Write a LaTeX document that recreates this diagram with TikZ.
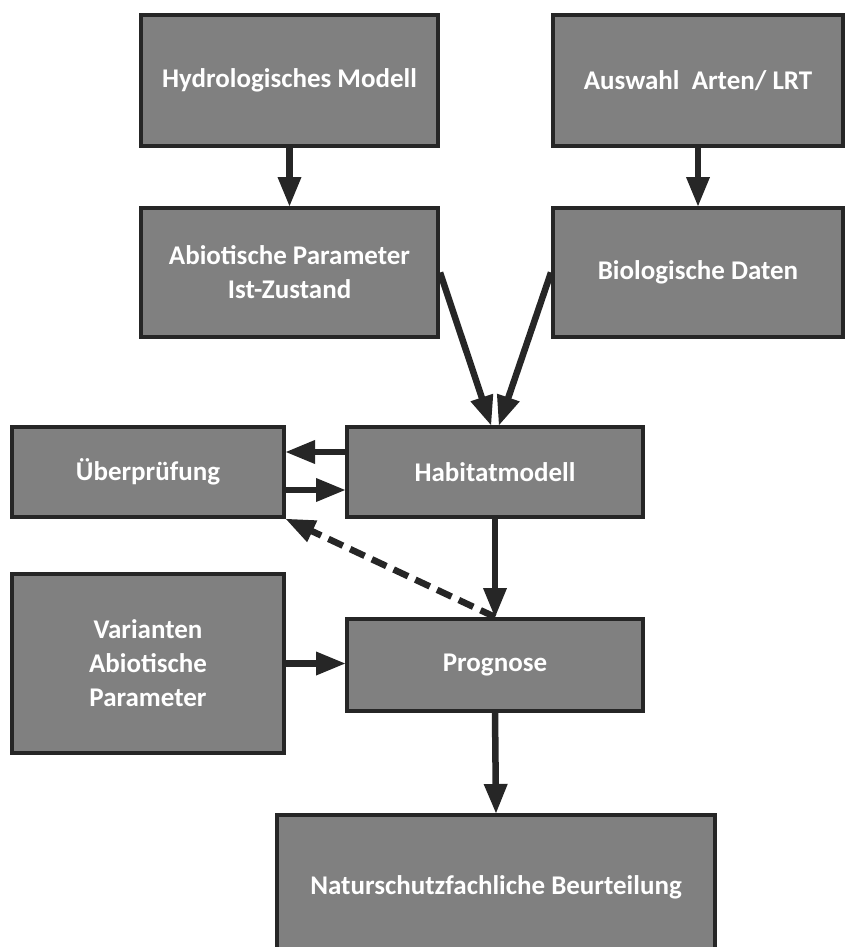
\documentclass[tikz,border=0pt]{standalone}
\usepackage{fontspec}
\setmainfont{Carlito}
\usetikzlibrary{arrows.meta}
\definecolor{boxfill}{HTML}{808080}
\definecolor{boxline}{HTML}{262626}
\tikzset{
  box/.style={draw=boxline, fill=boxfill, line width=4pt, inner sep=0pt,
    text=white, font=\fontsize{27}{34}\selectfont\bfseries, align=center},
  arr/.style={draw=boxline, line width=6.5pt,
    -{Triangle[length=30pt,width=22pt]}, shorten >=-1pt},
  dasharr/.style={arr, dash pattern=on 16pt off 8pt}
}
\begin{document}
\begin{tikzpicture}[x=1pt,y=-1pt]
\useasboundingbox (0,0) rectangle (845,947);
\begin{scope}
\clip (0,0) rectangle (845,947);
\node[box, minimum width=297pt, minimum height=131pt] (hyd) at (289.5,80.5) {Hydrologisches Modell};
\node[box, minimum width=290pt, minimum height=131pt] (ausw) at (698,80.5) {Auswahl\ \ Arten/ LRT};
\node[box, minimum width=297pt, minimum height=129pt] (abio) at (289.5,272.5) {Abiotische Parameter\\Ist-Zustand};
\node[box, minimum width=290pt, minimum height=129pt] (bio) at (698,272.5) {Biologische Daten};
\node[box, minimum width=272pt, minimum height=90pt] (ueber) at (148,472) {Überprüfung};
\node[box, minimum width=296pt, minimum height=90pt] (hab) at (495,472) {Habitatmodell};
\node[box, minimum width=272pt, minimum height=179pt] (var) at (148,663.5) {Varianten\\Abiotische\\Parameter};
\node[box, minimum width=296pt, minimum height=92pt] (prog) at (495,665) {Prognose};
\node[box, minimum width=438pt, minimum height=145pt] (natur) at (496,887.5) {Naturschutzfachliche Beurteilung};

\draw[arr] (hyd.south) -- (abio.north);
\draw[arr] (ausw.south) -- (bio.north);
\draw[arr] (abio.east) -- ([xshift=-4pt]hab.north);
\draw[arr] (bio.west) -- ([xshift=4pt]hab.north);
\draw[arr] ([yshift=20pt]hab.west) -- ([yshift=20pt]ueber.east);
\draw[arr] ([yshift=-18pt]ueber.east) -- ([yshift=-18pt]hab.west);
\draw[arr] (hab.south) -- (prog.north);
\draw[dasharr] (prog.north) -- (ueber.south east);
\draw[arr] (var.east) -- (var.east -| prog.west);
\draw[arr] (prog.south) -- (natur.north);
\end{scope}
\end{tikzpicture}
\end{document}
